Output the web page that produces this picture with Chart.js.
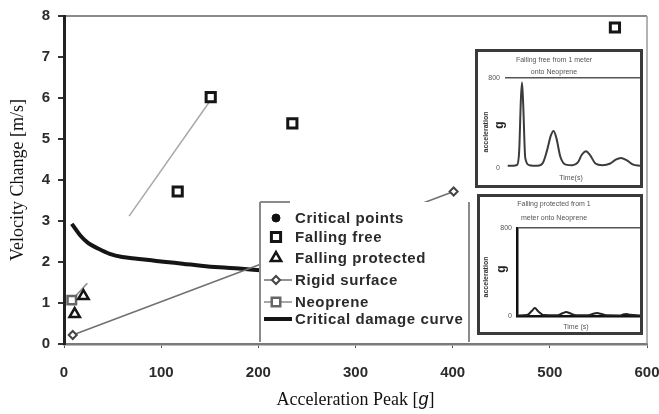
<!DOCTYPE html>
<html>
<head>
<meta charset="utf-8">
<script src="https://cdn.jsdelivr.net/npm/chart.js@4/dist/chart.umd.min.js"></script>
<style>
  body { margin: 0; background: #fff; }
  #wrap { position: relative; width: 659px; height: 414px; overflow: hidden; }
  #main { position: absolute; left: 0; top: 0; }
  .inset { position: absolute; background: #fff; border: 3px solid #3a3a3a; box-sizing: border-box; }
  .inset canvas { position: absolute; left: 0; top: 0; }
</style>
</head>
<body>
<div id="wrap">
  <canvas id="main" width="659" height="414"></canvas>
  <div class="inset" id="box1" style="left:475px;top:49px;width:168px;height:139px;">
    <canvas id="inset1" width="162" height="133"></canvas>
  </div>
  <div class="inset" id="box2" style="left:477px;top:194px;width:166px;height:141px;">
    <canvas id="inset2" width="160" height="135"></canvas>
  </div>
</div>
<script>
// main chart values
const xTicks = [0, 100, 200, 300, 400, 500, 600];
const yTicks = [0, 1, 2, 3, 4, 5, 6, 7, 8];

const criticalX = [];
const criticalY = [];
const freeX = [117, 151, 235, 567];
const freeY = [3.72, 6.02, 5.38, 7.72];
const protX = [11, 20];
const protY = [0.73, 1.17];
const rigidX = [9, 401];
const rigidY = [0.22, 3.72];
const neoX = [8, 24];
const neoY = [1.07, 1.48];
const curveX = [8, 12, 17, 25, 35, 47, 60, 75, 90, 105, 122, 141, 160, 180, 202];
const curveY = [2.93, 2.8, 2.64, 2.46, 2.33, 2.2, 2.12, 2.08, 2.04, 2.0, 1.96, 1.91, 1.87, 1.84, 1.8];
const trendX = [67, 151];
const trendY = [3.12, 5.95];

// inset signals (time scaled 0..1, acceleration in g)
const insetTicks = [0, 800];
const freeTime = [0.02, 0.06, 0.09, 0.105, 0.118, 0.126, 0.135, 0.15, 0.18, 0.24, 0.28, 0.31, 0.34, 0.36, 0.38, 0.41, 0.45, 0.5, 0.54, 0.57, 0.6, 0.63, 0.67, 0.72, 0.78, 0.82, 0.86, 0.9, 0.95, 1.0];
const freeAccel = [20, 20, 28, 150, 620, 760, 560, 90, 25, 20, 45, 150, 290, 330, 270, 100, 30, 25, 50, 120, 150, 115, 40, 25, 40, 75, 90, 70, 30, 20];
const protTime = [0, 0.08, 0.12, 0.145, 0.17, 0.22, 0.33, 0.37, 0.4, 0.43, 0.48, 0.58, 0.62, 0.65, 0.68, 0.74, 0.83, 0.87, 0.89, 0.92, 1.0];
const protAccel = [5, 8, 45, 73, 45, 8, 6, 25, 36, 25, 6, 6, 20, 27, 20, 6, 5, 15, 18, 12, 5];

const pts = (xs, ys) => xs.map((x, i) => ({ x, y: ys[i] }));
const SANS = '"Liberation Sans", Arial, sans-serif';
const SERIF = '"Liberation Serif", "Times New Roman", serif';
const INK = '#2b2b2b';

// legend box + axis titles, drawn over the data like the original figure
const overlay = {
  id: 'overlay',
  afterDatasetsDraw(chart) {
    const ctx = chart.ctx;
    const area = chart.chartArea;
    ctx.save();
    // right frame line
    ctx.strokeStyle = '#9a9a9a';
    ctx.lineWidth = 1.5;
    ctx.beginPath();
    ctx.moveTo(area.right, area.top);
    ctx.lineTo(area.right, area.bottom);
    ctx.stroke();

    // legend
    ctx.fillStyle = '#fff';
    ctx.fillRect(260, 202, 210, 140);
    ctx.strokeStyle = '#8a8a8a';
    ctx.lineWidth = 2;
    ctx.beginPath();
    ctx.moveTo(260, 202); ctx.lineTo(260, 342);
    ctx.moveTo(469, 202); ctx.lineTo(469, 342);
    ctx.moveTo(260, 202); ctx.lineTo(290, 202);
    ctx.stroke();

    const rows = [218, 237, 258, 280, 302, 319];
    const entries = chart.data.datasets.filter(d => d.label);
    entries.forEach((ds, i) => {
      const y = rows[i];
      if (ds.showLine) {
        ctx.strokeStyle = ds.borderColor;
        ctx.lineWidth = ds.borderWidth;
        ctx.beginPath();
        ctx.moveTo(264, y);
        ctx.lineTo(292, y);
        ctx.stroke();
      }
      if (ds.pointRadius > 0 || ds.legendPoint) {
        ctx.strokeStyle = ds.pointBorderColor;
        ctx.fillStyle = ds.pointBackgroundColor;
        ctx.lineWidth = ds.pointBorderWidth;
        Chart.helpers.drawPoint(ctx, {
          pointStyle: ds.pointStyle,
          radius: ds.legendRadius || 5,
          rotation: 0,
          borderWidth: ds.pointBorderWidth
        }, 276, y);
      }
      ctx.fillStyle = INK;
      ctx.font = 'bold 15px ' + SANS;
      ctx.letterSpacing = '0.6px';
      ctx.textBaseline = 'middle';
      ctx.textAlign = 'left';
      ctx.fillText(ds.label, 295, y + 1);
      ctx.letterSpacing = '0px';
    });

    // axis titles
    ctx.fillStyle = '#111';
    ctx.font = '18px ' + SERIF;
    ctx.textAlign = 'center';
    ctx.textBaseline = 'middle';
    ctx.save();
    ctx.translate(18, (area.top + area.bottom) / 2);
    ctx.rotate(-Math.PI / 2);
    ctx.fillText('Velocity Change [m/s]', 0, 0);
    ctx.restore();

    const a = 'Acceleration Peak [';
    const g = 'g';
    const b = ']';
    ctx.font = '18px ' + SERIF;
    const wa = ctx.measureText(a).width;
    const wb = ctx.measureText(b).width;
    ctx.font = 'italic 18px ' + SANS;
    const wg = ctx.measureText(g).width;
    let x0 = (area.left + area.right) / 2 - (wa + wg + wb) / 2;
    ctx.textAlign = 'left';
    ctx.font = '18px ' + SERIF;
    ctx.fillText(a, x0, 400);
    ctx.font = 'italic 18px ' + SANS;
    ctx.fillText(g, x0 + wa, 400);
    ctx.font = '18px ' + SERIF;
    ctx.fillText(b, x0 + wa + wg, 400);
    ctx.restore();
  }
};

new Chart(document.getElementById('main'), {
  type: 'scatter',
  data: {
    datasets: [
      { label: 'Critical points', data: pts(criticalX, criticalY), showLine: false,
        pointStyle: 'circle', pointRadius: 4, legendRadius: 4, legendPoint: true,
        pointBackgroundColor: '#111', pointBorderColor: '#111', pointBorderWidth: 1 },
      { label: 'Falling free', data: pts(freeX, freeY), showLine: false,
        pointStyle: 'rect', pointRadius: 6.5, legendRadius: 6.5,
        pointBackgroundColor: '#fff', pointBorderColor: '#151515', pointBorderWidth: 3 },
      { label: 'Falling protected', data: pts(protX, protY), showLine: false,
        pointStyle: 'triangle', pointRadius: 6, legendRadius: 6,
        pointBackgroundColor: '#fff', pointBorderColor: '#151515', pointBorderWidth: 2.5 },
      { label: 'Rigid surface', data: pts(rigidX, rigidY), showLine: true,
        borderColor: '#707070', borderWidth: 1.5,
        pointStyle: 'rectRot', pointRadius: 4, legendRadius: 4,
        pointBackgroundColor: '#fff', pointBorderColor: '#444', pointBorderWidth: 2 },
      { label: 'Neoprene', data: pts(neoX, neoY), showLine: true,
        borderColor: '#8a8a8a', borderWidth: 1.5,
        pointStyle: 'rect', pointRadius: [6, 0], legendRadius: 6, legendPoint: true,
        pointBackgroundColor: '#fff', pointBorderColor: '#666', pointBorderWidth: 2.5 },
      { label: 'Critical damage curve', data: pts(curveX, curveY), showLine: true,
        borderColor: '#151515', borderWidth: 4, pointRadius: 0,
        cubicInterpolationMode: 'monotone' },
      { label: '', data: pts(trendX, trendY), showLine: true,
        borderColor: '#a8a8a8', borderWidth: 1.5, pointRadius: 0 }
    ]
  },
  options: {
    responsive: false,
    animation: false,
    devicePixelRatio: 1,
    layout: { padding: { left: 0, top: 16, right: 12, bottom: 0 } },
    plugins: { legend: { display: false }, tooltip: { enabled: false } },
    scales: {
      x: {
        type: 'linear', min: 0, max: 600,
        afterBuildTicks: s => { s.ticks = xTicks.map(v => ({ value: v })); },
        afterFit: s => { s.height = 70; s.paddingLeft = 0; s.paddingRight = 0; },
        border: { color: '#7a7a7a', width: 2.5 },
        grid: { drawOnChartArea: false, tickLength: 4, tickColor: '#555' },
        ticks: { padding: 16, color: INK, font: { family: SANS, size: 15, weight: 'bold' } }
      },
      y: {
        type: 'linear', min: 0, max: 8,
        afterBuildTicks: s => { s.ticks = yTicks.map(v => ({ value: v })); },
        afterFit: s => { s.width = 64; s.paddingTop = 0; s.paddingBottom = 0; },
        border: { color: '#222', width: 3 },
        grid: {
          color: c => (c.tick && c.tick.value === 8 ? '#8a8a8a' : 'rgba(0,0,0,0)'),
          lineWidth: 2, tickLength: 6, tickColor: '#333'
        },
        ticks: { padding: 8, color: INK, font: { family: SANS, size: 15, weight: 'bold' } }
      }
    }
  },
  plugins: [overlay]
});

// small captions inside the insets
function insetText(opts) {
  return {
    id: 'insetText',
    afterDraw(chart) {
      const ctx = chart.ctx;
      ctx.save();
      ctx.fillStyle = '#555';
      ctx.textAlign = 'center';
      ctx.textBaseline = 'middle';
      ctx.font = '7px ' + SANS;
      opts.title.forEach((t, i) => ctx.fillText(t, opts.titleX, opts.titleY[i]));
      ctx.fillText(opts.xLabel, opts.xLabelPos[0], opts.xLabelPos[1]);
      ctx.save();
      ctx.translate(opts.yLabelPos[0], opts.yLabelPos[1]);
      ctx.rotate(-Math.PI / 2);
      ctx.font = 'bold 7px ' + SANS;
      ctx.fillStyle = '#333';
      ctx.fillText('acceleration', 0, 0);
      ctx.restore();
      ctx.save();
      ctx.translate(opts.gPos[0], opts.gPos[1]);
      ctx.rotate(-Math.PI / 2);
      ctx.font = 'bold 12px ' + SANS;
      ctx.fillStyle = '#222';
      ctx.fillText('g', 0, 0);
      ctx.restore();
      ctx.restore();
    }
  };
}

function makeInset(id, time, accel, cfg) {
  return new Chart(document.getElementById(id), {
    type: 'line',
    data: {
      datasets: [{
        data: pts(time, accel),
        borderColor: cfg.lineColor, borderWidth: 2, pointRadius: 0,
        cubicInterpolationMode: 'monotone'
      }]
    },
    options: {
      responsive: false,
      animation: false,
      devicePixelRatio: 1,
      layout: { padding: { left: 0, top: cfg.top, right: 0, bottom: 0 } },
      plugins: { legend: { display: false }, tooltip: { enabled: false } },
      scales: {
        x: {
          type: 'linear', min: 0, max: 1,
          afterFit: s => { s.height = cfg.xHeight; },
          border: { display: cfg.axes, color: '#111', width: 2.5 },
          grid: { display: false },
          ticks: { display: false }
        },
        y: {
          type: 'linear', min: 0, max: 800,
          afterBuildTicks: s => { s.ticks = insetTicks.map(v => ({ value: v })); },
          afterFit: s => { s.width = cfg.yWidth; },
          border: { display: cfg.axes, color: '#111', width: 2.5 },
          grid: {
            color: c => (c.tick && c.tick.value === 800 ? '#555' : 'rgba(0,0,0,0)'),
            lineWidth: 1.5, drawTicks: false
          },
          ticks: { padding: 5, color: '#555', font: { family: SANS, size: 7 } }
        }
      }
    },
    plugins: [insetText(cfg.text)]
  });
}

makeInset('inset1', freeTime, freeAccel, {
  lineColor: '#3c3c3c', top: 26, xHeight: 17, yWidth: 27, axes: false,
  text: {
    title: ['Falling free from 1 meter', 'onto Neoprene'], titleX: 76, titleY: [8, 20],
    xLabel: 'Time(s)', xLabelPos: [93, 126], yLabelPos: [8, 80], gPos: [22, 73]
  }
});

makeInset('inset2', protTime, protAccel, {
  lineColor: '#222', top: 31, xHeight: 16, yWidth: 37, axes: true,
  text: {
    title: ['Falling protected from 1', 'meter onto Neoprene'], titleX: 74, titleY: [7, 21],
    xLabel: 'Time (s)', xLabelPos: [96, 130], yLabelPos: [6, 80], gPos: [22, 72]
  }
});
</script>
</body>
</html>
